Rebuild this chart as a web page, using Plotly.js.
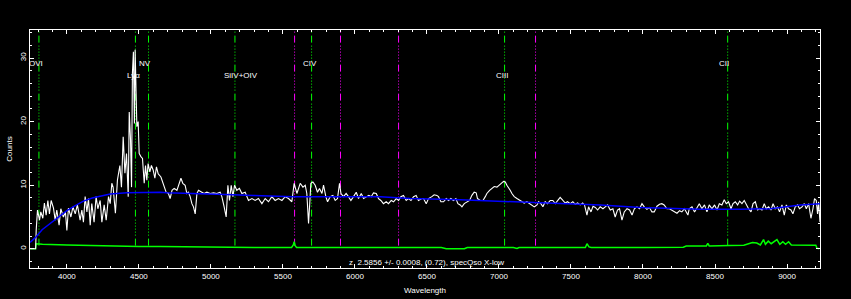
<!DOCTYPE html>
<html><head><meta charset="utf-8">
<script src="https://cdn.plot.ly/plotly-3.0.1.min.js"></script>
<style>html,body{margin:0;padding:0;background:#000;}#chart{width:851px;height:299px;}</style>
</head><body><div id="chart"></div>
<script>
// Observed spectrum (wavelength in Angstrom, counts)
const specWave = [3745,3783,3787,3796,3810,3819,3833,3844,3856,3868,3879,3891,3907,3919,3930,3946,3958,3976,3990,4000,
4011,4028,4042,4058,4073,4092,4104,4115,4127,4139,4150,4162,4173,4189,4203,4215,4231,4243,4259,4273,4289,4301,4312,4321,
4337,4351,4368,4379,4391,4403,4414,4426,4433,4442,4449,4455,4462,4469,4474,4479,4486,4495,4502,4514,4525,4537,4546,4555,
4564,4576,4587,4599,4611,4622,4634,4653,4671,4689,4705,4717,4730,4745,4764,4780,4792,4805,4821,4833,4844,4856,4868,4879,
4891,4903,4914,4937,4953,4972,4995,5018,5041,5064,5076,5092,5106,5118,5129,5141,5153,5164,5180,5198,5215,5238,5261,5285,
5307,5330,5354,5377,5400,5423,5446,5469,5493,5516,5539,5562,5578,5597,5620,5639,5655,5666,5678,5685,5694,5708,5724,5740,
5754,5771,5782,5798,5810,5828,5847,5863,5879,5893,5903,5921,5939,5955,5972,5990,6009,6025,6044,6060,6078,6097,6113,6129,
6148,6164,6180,6198,6217,6233,6252,6268,6287,6303,6319,6337,6356,6372,6389,6407,6425,6441,6465,6476,6495,6511,6534,6550,
6569,6580,6597,6615,6634,6650,6666,6684,6701,6715,6731,6743,6759,6777,6796,6812,6828,6842,6851,6870,6889,6905,6916,6935,
6951,6967,6986,7002,7016,7032,7044,7055,7066,7078,7090,7106,7125,7143,7159,7175,7194,7212,7229,7245,7264,7275,7291,7305,
7321,7337,7356,7374,7391,7407,7425,7444,7460,7476,7495,7513,7530,7546,7564,7581,7594,7611,7622,7639,7653,7669,7685,7703,
7722,7738,7754,7773,7791,7807,7823,7837,7854,7870,7889,7907,7924,7940,7958,7976,7993,8009,8027,8045,8062,8078,8097,8115,
8131,8147,8166,8184,8201,8217,8236,8254,8270,8288,8312,8321,8340,8358,8375,8391,8409,8427,8444,8460,8479,8497,8514,8530,
8548,8564,8578,8594,8611,8625,8641,8657,8671,8687,8703,8717,8733,8750,8764,8780,8796,8810,8826,8842,8856,8872,8889,8903,
8918,8934,8948,8965,8981,8995,9011,9027,9041,9057,9073,9087,9104,9120,9134,9150,9166,9180,9191,9203,9212,9219,9229];
const specFlux = [0.0,0.0,2.9,6.1,4.5,5.8,4.8,7.2,5.3,7.6,5.5,7.6,6.4,4.5,6.1,3.7,6.3,5.0,5.8,2.9,
6.4,5.0,6.6,5.5,6.9,4.5,6.1,4.2,8.2,5.8,7.9,3.7,7.1,4.2,8.2,6.3,7.6,4.2,6.9,4.5,8.2,7.1,10.3,9.7,
5.6,10.8,13.1,9.7,17.6,11.9,15.0,8.2,21.5,17.1,9.7,27.6,31.0,19.7,31.3,23.7,19.2,20.0,15.0,14.5,14.2,10.3,13.1,10.8,
13.4,12.1,13.1,12.4,11.1,12.9,11.8,11.3,10.0,8.9,8.7,7.9,9.2,9.5,9.2,10.3,11.1,10.3,10.0,8.7,8.9,8.2,7.1,6.6,
5.5,8.7,9.2,8.9,8.7,8.9,8.7,8.8,8.7,8.9,8.2,6.6,5.0,10.0,7.6,10.0,8.2,10.0,9.2,9.5,8.7,8.9,7.6,7.9,
7.6,7.9,7.1,7.9,7.4,8.2,7.6,7.9,7.6,8.2,7.9,7.4,10.3,8.7,10.3,9.7,10.0,8.7,4.0,6.6,10.3,10.5,10.0,8.9,
9.5,8.7,10.0,8.2,7.4,8.2,8.4,7.6,7.9,10.3,8.7,8.2,8.7,8.2,7.6,8.2,8.9,7.9,8.7,7.9,8.2,8.4,8.2,8.8,
8.7,7.9,7.6,7.1,7.4,7.1,7.6,7.4,7.9,7.6,8.2,8.4,7.6,7.9,7.6,8.2,8.4,7.6,7.9,7.9,7.1,7.9,8.2,8.5,
8.4,8.2,7.4,7.4,7.9,7.6,7.9,7.6,7.9,7.1,6.9,6.6,7.1,7.4,7.6,8.4,8.9,8.8,7.9,7.6,7.6,8.2,8.7,9.2,
9.5,9.8,9.7,10.1,10.3,10.6,10.5,10.0,9.7,9.2,8.7,8.2,7.9,7.6,7.4,7.2,7.4,7.1,6.9,6.6,6.9,7.4,7.1,6.6,
7.4,7.1,7.6,7.6,7.1,7.6,8.1,7.6,7.2,7.4,7.1,7.4,7.0,7.2,6.9,7.2,6.9,5.3,6.6,5.8,6.7,6.5,6.1,6.6,
6.3,6.6,6.9,6.1,6.3,5.0,6.1,6.3,4.5,5.8,6.3,6.1,5.3,6.3,6.6,6.3,7.1,6.6,6.2,6.5,5.8,5.8,6.7,7.0,
7.1,6.9,6.3,6.3,6.1,5.8,5.6,6.0,5.8,6.3,5.3,6.3,6.6,5.8,6.6,7.1,6.3,6.9,5.8,6.9,6.3,6.9,6.1,7.1,
6.9,7.7,7.1,7.4,6.3,7.1,7.4,6.9,7.5,7.1,7.6,6.9,6.3,5.8,7.1,7.4,6.1,6.3,6.1,7.1,6.3,6.6,6.1,7.1,
6.3,6.6,5.8,6.9,5.3,6.9,6.3,6.1,5.5,6.6,6.9,6.3,6.6,7.1,6.3,7.1,4.8,6.3,7.9,7.6,5.5,7.4,4.2];

// Model continuum (blue)
const contWave = [3745,3787,3828,3884,3939,4000,4058,4115,4176,4231,4301,4417,4578,4648,4694,4926,5155,5294,5571,6175,6384,6731,7009,7287,7391,7703,7982,8189,8397,8675,8884,9092,9229];
const contFlux = [1.0,1.9,3.0,4.0,5.0,6.0,6.8,7.5,8.0,8.3,8.6,8.8,8.9,8.9,8.8,8.7,8.5,8.4,8.2,8.2,7.9,7.7,7.5,7.3,7.2,6.9,6.5,6.3,6.2,6.2,6.3,6.9,7.1];

// Noise (green)
const noiseWave = [3745,3783,3787,3830,4000,4092,4250,4500,4650,4800,5000,5300,5560,5572,5578,5585,5595,5700,5893,5900,6000,6300,6310,6600,6634,6760,6780,7100,7125,7140,7600,7611,7625,7640,8000,8280,8300,8440,8450,8460,8600,8700,8760,8790,8815,8837,8850,8870,8890,8930,8950,8971,8990,9011,9030,9200,9208,9222];
const noiseFlux = [0.0,0.0,0.8,0.7,0.6,0.55,0.45,0.35,0.35,0.3,0.25,0.22,0.2,0.6,1.1,0.5,0.2,0.2,0.3,0.25,0.2,0.25,0.2,0.2,0.0,0.0,0.2,0.2,0.05,0.2,0.2,0.8,0.3,0.2,0.2,0.25,0.45,0.45,0.85,0.45,0.5,0.55,1.0,0.9,0.6,1.45,0.7,1.2,0.8,1.45,0.7,1.1,0.7,1.1,0.6,0.55,0.1,0.0];

// Marked lines
const lineWave = [3806,4476,4567,5167,5699,7039,8588,5581,5900,6303,7254];
const lineKind = ['qso','qso','qso','qso','qso','qso','qso','sky','sky','sky','sky'];
const labelText = ['OVI','Lyα','NV','SiIV+OIV','CIV','CIII','CII'];
const labelWave = [3787,4466,4545,5210,5686,7023,8562];
const redshiftText = 'z\u00a0\u00a02.5856 +/- 0.0008, (0.72), specQso X-low';

const GREEN = '#00ff00', MAGENTA = '#ff00ff';
const dashPat = '7px,3px,1px,2px,1px,2px,1px,2px,1px,2px,1px,2px,1px,3px';

const shapes = lineWave.map((w, i) => ({
  type: 'line', xref: 'x', yref: 'y', x0: w, x1: w, y0: 0.5, y1: 34.4, layer: 'below',
  line: {color: lineKind[i] === 'qso' ? GREEN : MAGENTA, width: 1, dash: dashPat}
}));

const annotations = labelText.map((t, i) => ({
  x: labelWave[i], y: (i % 2 === 0) ? 29.1 : 27.2, xref: 'x', yref: 'y', text: t,
  showarrow: false, font: {size: 8, color: '#ffffff'}, xanchor: 'center', yanchor: 'middle'
}));
annotations.push({x: 6498, y: -2.2, xref: 'x', yref: 'y', text: redshiftText, showarrow: false,
  font: {size: 8, color: '#ffffff'}, xanchor: 'center', yanchor: 'middle'});

const traces = [
  {x: noiseWave, y: noiseFlux, type: 'scatter', mode: 'lines', line: {color: GREEN, width: 1.5}, hoverinfo: 'skip'},
  {x: specWave, y: specFlux, type: 'scatter', mode: 'lines', line: {color: '#ffffff', width: 1.1}, hoverinfo: 'skip'},
  {x: contWave, y: contFlux, type: 'scatter', mode: 'lines', line: {color: '#0000ff', width: 1.5}, hoverinfo: 'skip'}
];

const axisCommon = {
  showgrid: false, zeroline: false, showline: true, linecolor: '#ffffff', linewidth: 1,
  mirror: 'allticks', ticks: 'inside', ticklen: 4, tickwidth: 1, tickcolor: '#ffffff',
  tickfont: {size: 8, color: '#ffffff'}, automargin: false
};

const layout = {
  width: 851, height: 299,
  paper_bgcolor: '#000000', plot_bgcolor: '#000000',
  margin: {l: 30, r: 31, t: 30, b: 31},
  showlegend: false,
  font: {family: 'Liberation Sans, Arial, sans-serif', size: 8, color: '#ffffff'},
  xaxis: Object.assign({}, axisCommon, {
    range: [3744, 9229], tick0: 0, dtick: 500,
    minor: {dtick: 100, ticklen: 2, tickcolor: '#ffffff', ticks: 'inside', showgrid: false},
    title: {text: 'Wavelength', font: {size: 8, color: '#ffffff'}, standoff: 7}
  }),
  yaxis: Object.assign({}, axisCommon, {
    range: [-3.02, 34.41], tick0: 0, dtick: 10, tickangle: -90,
    minor: {dtick: 2, ticklen: 2, tickcolor: '#ffffff', ticks: 'inside', showgrid: false},
    title: {text: 'Counts', font: {size: 8, color: '#ffffff'}, standoff: 4}
  }),
  shapes: shapes,
  annotations: annotations
};

Plotly.newPlot('chart', traces, layout, {staticPlot: true, displayModeBar: false});
</script></body></html>
